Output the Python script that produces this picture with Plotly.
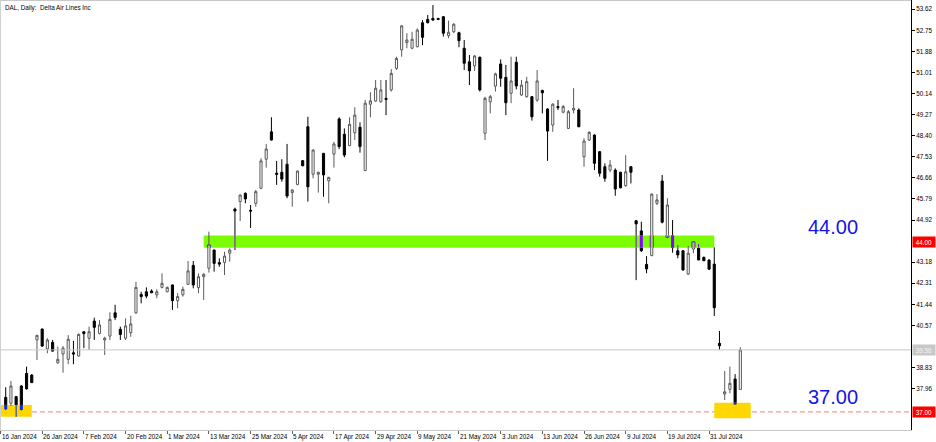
import pandas as pd
import plotly.graph_objects as go

title_text = "DAL, Daily:  Delta Air Lines Inc"
holidays = ['2024-02-19', '2024-03-29', '2024-05-27', '2024-06-19', '2024-07-04']
first_candle = '2024-01-17'

opens = [37.60, 37.36, 37.63, 38.07, 38.59, 38.52, 39.97, 40.42, 39.60, 39.87,
         39.03, 39.39, 39.17, 39.44, 39.31, 40.31, 40.04, 40.75, 40.24, 39.97,
         40.13, 41.09, 40.41, 40.04, 40.27, 41.09, 41.85, 41.96, 41.99, 41.83,
         42.14, 41.96, 42.24, 41.59, 41.83, 42.27, 43.05, 42.13, 42.58, 42.93,
         43.68, 43.16, 43.17, 43.55, 45.37, 45.68, 46.02, 45.32, 45.61, 46.23,
         47.43, 48.56, 46.85, 46.89, 47.22, 46.05, 46.39, 47.37, 48.77, 46.81,
         46.81, 47.67, 46.54, 47.64, 49.09, 48.46, 47.99, 48.52, 48.75, 46.96,
         49.70, 49.83, 49.80, 49.94, 50.29, 51.18, 51.94, 52.24, 52.01, 52.07,
         53.06, 53.20, 53.24, 53.24, 53.31, 52.53, 52.69, 52.65, 52.01, 51.45,
         51.28, 51.64, 48.50, 49.80, 50.45, 51.36, 50.81, 50.15, 51.43, 50.08,
         50.01, 50.01, 49.87, 50.27, 49.50, 48.84, 49.60, 49.37, 48.70, 49.46,
         49.46, 47.53, 48.22, 48.43, 47.74, 47.12, 46.98, 46.98, 46.89, 46.34,
         47.12, 44.89, 44.47, 43.09, 43.45, 45.61, 46.53, 44.21, 44.27, 43.65,
         43.65, 42.69, 43.72, 43.75, 43.38, 43.27, 43.10, 39.83, 37.74, 37.93,
         38.36, 37.93]
highs = [38.02, 38.28, 37.66, 38.11, 38.87, 38.56, 40.18, 40.44, 40.04, 39.97,
         39.69, 39.72, 40.17, 39.93, 40.24, 40.33, 40.52, 40.89, 40.79, 40.10,
         41.11, 41.42, 40.52, 40.86, 40.97, 42.37, 41.96, 42.14, 42.06, 42.06,
         42.72, 42.17, 42.26, 41.90, 42.17, 43.23, 43.23, 42.72, 42.72, 44.44,
         43.70, 43.34, 43.61, 43.75, 45.43, 45.97, 46.06, 45.54, 46.16, 47.47,
         48.06, 49.16, 47.36, 47.43, 48.06, 46.18, 46.96, 47.39, 49.18, 47.83,
         46.91, 47.69, 46.70, 48.15, 49.16, 48.70, 49.16, 49.57, 48.95, 49.87,
         50.19, 50.70, 50.70, 50.70, 51.15, 51.66, 52.97, 52.63, 52.69, 52.83,
         53.17, 53.38, 53.79, 53.26, 53.34, 53.15, 53.04, 52.69, 52.35, 51.73,
         51.73, 51.66, 50.01, 50.08, 51.00, 51.55, 51.32, 51.66, 51.66, 50.70,
         50.83, 50.03, 51.11, 50.29, 49.53, 49.74, 49.87, 49.67, 49.46, 50.36,
         49.53, 48.29, 48.59, 48.45, 47.76, 47.26, 47.40, 47.05, 46.91, 47.60,
         47.14, 44.92, 44.85, 43.43, 46.02, 45.99, 46.78, 45.82, 44.92, 43.89,
         43.68, 43.85, 44.04, 43.93, 43.41, 43.30, 43.79, 40.34, 38.69, 38.87,
         38.56, 39.67]
lows = [37.08, 37.24, 36.80, 37.06, 37.93, 38.19, 39.14, 39.68, 39.42, 39.49,
        38.98, 38.62, 38.97, 38.97, 39.28, 39.63, 39.56, 39.97, 40.20, 39.35,
        39.97, 40.79, 39.97, 39.97, 40.10, 41.05, 41.48, 41.69, 41.90, 41.69,
        42.10, 41.94, 41.21, 41.28, 41.76, 42.24, 42.10, 41.90, 41.62, 42.75,
        42.79, 42.99, 42.65, 43.20, 43.68, 44.88, 45.61, 44.59, 45.47, 46.19,
        47.08, 48.20, 46.37, 46.50, 45.82, 45.47, 46.35, 47.14, 45.68, 46.64,
        46.05, 45.88, 45.61, 47.08, 47.85, 47.51, 47.97, 48.22, 47.70, 46.94,
        49.16, 49.80, 49.76, 49.25, 50.22, 51.11, 51.66, 52.01, 51.97, 52.05,
        52.14, 53.04, 53.15, 53.17, 52.49, 52.42, 52.63, 52.05, 51.11, 50.49,
        51.07, 50.22, 48.22, 49.32, 50.22, 50.42, 49.25, 49.74, 50.31, 50.04,
        49.97, 49.02, 49.80, 49.32, 47.36, 48.56, 49.46, 49.32, 48.68, 49.32,
        48.75, 47.12, 48.18, 46.98, 46.71, 46.50, 46.89, 45.92, 46.23, 46.29,
        46.43, 42.44, 43.61, 42.72, 43.43, 45.54, 44.78, 44.17, 43.57, 43.34,
        42.83, 42.65, 43.55, 43.27, 43.24, 42.86, 40.96, 39.56, 37.49, 37.77,
        37.29, 37.93]
closes = [37.11, 38.07, 37.29, 37.08, 37.95, 38.21, 40.16, 39.72, 39.97, 39.51,
          39.17, 39.63, 40.00, 39.39, 40.20, 40.23, 40.31, 40.49, 40.59, 40.04,
          40.82, 40.90, 40.20, 40.55, 40.63, 42.14, 41.76, 41.78, 41.92, 41.96,
          42.31, 42.14, 41.59, 41.76, 42.06, 42.82, 42.24, 42.58, 42.68, 43.89,
          43.13, 43.10, 43.43, 43.68, 45.29, 45.95, 45.79, 45.29, 46.09, 47.36,
          47.85, 48.22, 46.81, 46.61, 45.91, 46.16, 46.94, 47.16, 46.29, 47.81,
          46.89, 46.78, 46.68, 48.06, 47.95, 47.60, 48.87, 49.25, 47.95, 49.74,
          49.84, 50.36, 50.29, 49.90, 50.97, 51.59, 52.93, 52.35, 52.38, 52.76,
          52.46, 53.06, 53.17, 53.20, 52.63, 52.67, 53.00, 52.32, 51.39, 51.08,
          51.69, 50.29, 49.94, 50.01, 50.95, 50.77, 49.76, 50.66, 50.45, 50.49,
          50.63, 49.18, 50.66, 50.17, 48.59, 49.70, 49.56, 49.60, 49.39, 49.53,
          48.77, 48.18, 48.54, 47.26, 46.85, 46.64, 47.19, 46.20, 46.25, 46.91,
          46.89, 44.76, 43.65, 42.90, 45.99, 45.75, 44.83, 45.54, 43.78, 43.48,
          42.86, 43.55, 44.02, 43.27, 43.24, 42.89, 41.30, 39.73, 37.83, 38.18,
          37.31, 39.56]

tick_dates = ['2024-01-16', '2024-01-26', '2024-02-07', '2024-02-20', '2024-03-01',
              '2024-03-13', '2024-03-25', '2024-04-05', '2024-04-17', '2024-04-29',
              '2024-05-09', '2024-05-21', '2024-06-03', '2024-06-13', '2024-06-26',
              '2024-07-09', '2024-07-19', '2024-07-31']
price_ticks = [53.62, 52.75, 51.88, 51.01, 50.14, 49.27, 48.40, 47.53, 46.66, 45.79,
               44.92, 44.05, 43.18, 42.31, 41.44, 40.57, 39.70, 38.83, 37.96, 37.09]
level_values = [44.00, 37.00]
dashed_levels = [37.00]

zone_lo = [36.80, 43.78, 36.74]
zone_hi = [37.29, 44.28, 37.38]
zone_from = ['2024-01-16', '2024-03-12', '2024-08-01']
zone_to = ['2024-01-24', '2024-08-01', '2024-08-12']
zone_colors = ['#FFD700', '#7CFC00', '#FFD700']

# ---- trading calendar -> bar index ----
cal = [d.strftime('%Y-%m-%d') for d in pd.bdate_range('2024-01-16', '2024-09-30')
       if d.strftime('%Y-%m-%d') not in holidays]
pos = {d: i for i, d in enumerate(cal)}
start = pos[first_candle]
xs = list(range(start, start + len(opens)))
cdates = cal[start:start + len(opens)]

BULL_LINE = '#5a5a5a'
BEAR_LINE = '#000000'
last_close = closes[-1]

# axis price labels hide the regular ticks they sit on (as in MT4)
boxed_values = level_values + [last_close]
shown_ticks = [t for t in price_ticks if all(abs(t - b) > 0.3 for b in boxed_values)]


def invert(hexcol):
    h = hexcol.lstrip('#')
    r, g, b = (int(h[i:i + 2], 16) for i in (0, 2, 4))
    return '#%02X%02X%02X' % (255 - r, 255 - g, 255 - b)


fig = go.Figure()
fig.add_trace(go.Candlestick(
    x=xs, open=opens, high=highs, low=lows, close=closes,
    text=cdates, hoverinfo='text+y',
    increasing=dict(line=dict(color=BULL_LINE, width=1), fillcolor='#FFFFFF'),
    decreasing=dict(line=dict(color=BEAR_LINE, width=1), fillcolor='#000000'),
    whiskerwidth=0, showlegend=False,
))

shapes = []
# horizontal level lines
for lv in dashed_levels:
    shapes.append(dict(type='line', xref='paper', x0=0, x1=1, yref='y', y0=lv, y1=lv,
                       line=dict(color='#F08080', width=1, dash='5px,3px'), layer='above'))
shapes.append(dict(type='line', xref='paper', x0=0, x1=1, yref='y', y0=last_close, y1=last_close,
                   line=dict(color='#C8C8C8', width=1), layer='above'))

# zones (drawn over the candles, MT4-style)
hw = 0.29
for zc, zl, zh, zf, zt in zip(zone_colors, zone_lo, zone_hi, zone_from, zone_to):
    x0, x1 = pos[zf], pos[zt]
    shapes.append(dict(type='rect', xref='x', yref='y', x0=x0, x1=x1, y0=zl, y1=zh,
                       fillcolor=zc, line=dict(width=0), layer='above'))
    inv = invert(zc)
    for x, o, h, l, c in zip(xs, opens, highs, lows, closes):
        if not (x0 <= x <= x1):
            continue
        wl, wh = max(l, zl), min(h, zh)
        bull = c >= o
        if wl < wh:
            shapes.append(dict(type='line', xref='x', yref='y', x0=x, x1=x, y0=wl, y1=wh,
                               line=dict(color=inv if not bull else BULL_LINE, width=1), layer='above'))
        blo, bhi = min(o, c), max(o, c)
        cl, ch = max(blo, zl), min(bhi, zh)
        if cl < ch:
            if not bull:
                shapes.append(dict(type='rect', xref='x', yref='y', x0=x - hw, x1=x + hw, y0=cl, y1=ch,
                                   fillcolor=inv, line=dict(width=0), layer='above'))
            else:
                shapes.append(dict(type='rect', xref='x', yref='y', x0=x - hw, x1=x + hw, y0=cl, y1=ch,
                                   fillcolor=zc, line=dict(width=0), layer='above'))
                for xx in (x - hw, x + hw):
                    shapes.append(dict(type='line', xref='x', yref='y', x0=xx, x1=xx, y0=cl, y1=ch,
                                       line=dict(color=inv, width=1), layer='above'))
                if zl <= bhi <= zh:
                    shapes.append(dict(type='line', xref='x', yref='y', x0=x - hw, x1=x + hw, y0=bhi, y1=bhi,
                                       line=dict(color=inv, width=1), layer='above'))
                if zl <= blo <= zh:
                    shapes.append(dict(type='line', xref='x', yref='y', x0=x - hw, x1=x + hw, y0=blo, y1=blo,
                                       line=dict(color=inv, width=1), layer='above'))

# window borders (top / left)
shapes.append(dict(type='line', xref='paper', yref='paper', x0=0, x1=1, y0=1, y1=1,
                   line=dict(color='#C8C8C8', width=2), layer='above'))
shapes.append(dict(type='line', xref='paper', yref='paper', x0=0, x1=0, y0=0, y1=1,
                   line=dict(color='#D0D0D0', width=2), layer='above'))

annotations = []
annotations.append(dict(text=title_text, xref='paper', yref='paper', x=0, y=1,
                        xanchor='left', yanchor='top', xshift=3, yshift=-2, showarrow=False,
                        font=dict(size=6.3, color='#000000', family='Liberation Sans')))
# date labels (left aligned at their bar like MT4)
for d in tick_dates:
    lab = pd.Timestamp(d)
    annotations.append(dict(text=f"{lab.day} {lab.strftime('%b %Y')}", xref='x', yref='paper',
                            x=pos[d], y=0, xanchor='left', yanchor='top', xshift=-1, yshift=-1,
                            showarrow=False, font=dict(size=6.3, color='#000000', family='Liberation Sans')))
# level text labels in the chart
for lv in level_values:
    annotations.append(dict(text=f"{lv:.2f}", xref='x', yref='y', x=165, y=lv + 0.62,
                            xanchor='right', yanchor='middle', showarrow=False,
                            font=dict(size=20, color='#1414E6', family='Liberation Sans')))
# price labels on the axis
for lv in level_values:
    annotations.append(dict(text=f"{lv:.2f}", xref='paper', yref='y', x=1, y=lv,
                            xanchor='left', yanchor='middle', xshift=1, showarrow=False,
                            bgcolor='#FF0000', borderpad=1, width=20, height=8,
                            font=dict(size=6.3, color='#FFFFFF', family='Liberation Sans')))
annotations.append(dict(text=f"{last_close:.2f}", xref='paper', yref='y', x=1, y=last_close,
                        xanchor='left', yanchor='middle', xshift=1, showarrow=False,
                        bgcolor='#C8C8C8', borderpad=1, width=20, height=8,
                        font=dict(size=6.3, color='#F4F4F4', family='Liberation Sans')))

fig.update_layout(
    width=936, height=442,
    margin=dict(l=0, r=25, t=0, b=12),
    paper_bgcolor='#FFFFFF', plot_bgcolor='#FFFFFF',
    boxgap=0.42,
    shapes=shapes, annotations=annotations,
    showlegend=False,
    xaxis=dict(range=[-0.096, 174.76], rangeslider=dict(visible=False),
               showgrid=False, zeroline=False, showline=True, linecolor='#C8C8C8', linewidth=1,
               tickvals=[pos[d] for d in tick_dates], ticktext=['' for _ in tick_dates],
               ticks='outside', ticklen=3, tickcolor='#606060', showticklabels=False,
               fixedrange=True),
    yaxis=dict(range=[36.254, 54.0], side='right', showgrid=False, zeroline=False,
               showline=True, linecolor='#000000', linewidth=1,
               tickvals=shown_ticks, ticktext=[f"{v:.2f}" for v in shown_ticks],
               ticks='outside', ticklen=3, tickcolor='#000000',
               tickfont=dict(size=6.3, color='#000000', family='Liberation Sans'),
               fixedrange=True),
)

fig.write_html("out.html", config={'displayModeBar': False},
               post_script="document.body.style.margin='0';document.body.style.overflow='hidden';")
